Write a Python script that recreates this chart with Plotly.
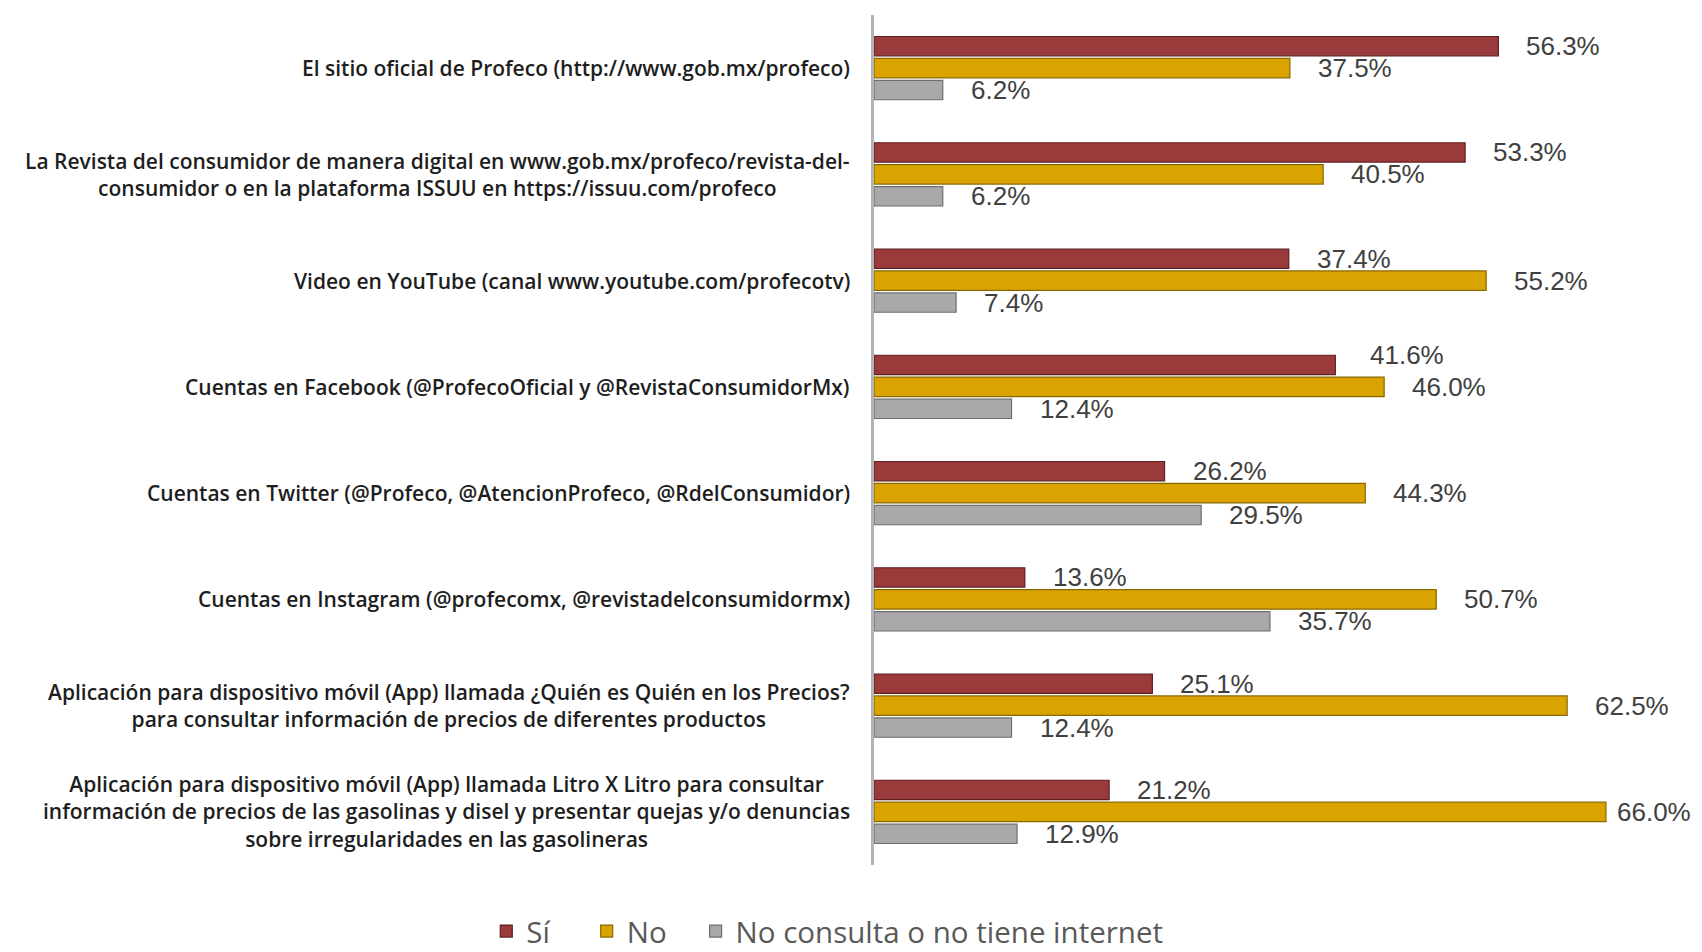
import plotly.graph_objects as go

categories = [
    "El sitio oficial de Profeco (http://www.gob.mx/profeco)",
    "La Revista del consumidor de manera digital en www.gob.mx/profeco/revista-del-<br>consumidor o en la plataforma ISSUU en https://issuu.com/profeco",
    "Video en YouTube (canal www.youtube.com/profecotv)",
    "Cuentas en Facebook (@ProfecoOficial y @RevistaConsumidorMx)",
    "Cuentas en Twitter (@Profeco, @AtencionProfeco, @RdelConsumidor)",
    "Cuentas en Instagram (@profecomx, @revistadelconsumidormx)",
    "Aplicación para dispositivo móvil (App) llamada ¿Quién es Quién en los Precios?<br>para consultar información de precios de diferentes productos",
    "Aplicación para dispositivo móvil (App) llamada Litro X Litro para consultar<br>información de precios de las gasolinas y disel y presentar quejas y/o denuncias<br>sobre irregularidades en las gasolineras",
]
series_names = ["Sí", "No", "No consulta o no tiene internet"]
si_values = [56.3, 53.3, 37.4, 41.6, 26.2, 13.6, 25.1, 21.2]
no_values = [37.5, 40.5, 55.2, 46.0, 44.3, 50.7, 62.5, 66.0]
noconsulta_values = [6.2, 6.2, 7.4, 12.4, 29.5, 35.7, 12.4, 12.9]

all_values = [si_values, no_values, noconsulta_values]
colors = ["#9A3A3A", "#D9A300", "#A9A9A9"]
line_colors = ["#5E2020", "#8A6800", "#6E6E6E"]
legend_ids = ["legend", "legend2", "legend3"]
legend_x = [0.281, 0.340, 0.404]

W, H = 1702, 952
L, R, T, B = 866, 12, 7, 95
X_MAX = 74.3
ppu = (W - L - R) / X_MAX  # pixels per percentage unit
LABEL_FONT = 26
LABEL_W = 3.5 * LABEL_FONT  # approx. width of a "00.0%" label

cat_ids = list(range(len(categories)))

fig = go.Figure()
for name, vals, c, lc, lg in zip(series_names, all_values, colors, line_colors, legend_ids):
    fig.add_trace(go.Bar(
        y=cat_ids, x=vals, name=name, orientation="h",
        marker=dict(color=c, line=dict(color=lc, width=1.2)),
        hoverinfo="skip", legend=lg,
    ))

annotations = []
offsets = [-22, 0, 22]
for s, (vals, off) in enumerate(zip(all_values, offsets)):
    for i, v in enumerate(vals):
        end_px = L + v * ppu
        shift = 26
        if end_px + shift + LABEL_W > W - 4:
            shift = max(8, W - 4 - LABEL_W - end_px)
        yshift = -off
        # lift a label that would collide with the label just below it
        if s + 1 < len(all_values):
            nxt = all_values[s + 1][i]
            if v < nxt and (nxt - v) * ppu < LABEL_W:
                yshift += 10
                shift += 7
        annotations.append(dict(
            x=v, y=i, xref="x", yref="y", text=f"{v:.1f}%",
            showarrow=False, xanchor="left", yanchor="middle",
            xshift=shift, yshift=yshift,
            font=dict(family="Liberation Sans", size=LABEL_FONT, color="#404040"),
        ))
for i, cat in enumerate(categories):
    annotations.append(dict(
        x=0, y=i, xref="x", yref="y", text=cat, showarrow=False,
        xanchor="right", yanchor="middle", align="center", xshift=-22,
        font=dict(family="Open Sans", size=21, color="#1E1E1E", weight=600),
    ))

legend_common = dict(
    orientation="h", xref="container", yref="container",
    xanchor="left", y=0.03, yanchor="middle",
    font=dict(family="Open Sans", size=29.5, color="#595959"),
    bgcolor="rgba(0,0,0,0)",
)

fig.update_layout(
    width=W, height=H,
    margin=dict(l=L, r=R, t=T, b=B),
    paper_bgcolor="white", plot_bgcolor="rgba(0,0,0,0)",
    barmode="group", bargap=0.38, bargroupgap=0.12,
    showlegend=True,
    legend=dict(x=legend_x[0], **legend_common),
    legend2=dict(x=legend_x[1], **legend_common),
    legend3=dict(x=legend_x[2], **legend_common),
    annotations=annotations,
    xaxis=dict(range=[0, X_MAX], showgrid=False, zeroline=False,
               showticklabels=False, showline=False, ticks=""),
    yaxis=dict(range=[7.5, -0.5], showgrid=False, zeroline=False,
               showticklabels=False, ticks="", showline=True,
               linecolor="#B4B4B4", linewidth=3),
)

fig.write_html("out.html")
